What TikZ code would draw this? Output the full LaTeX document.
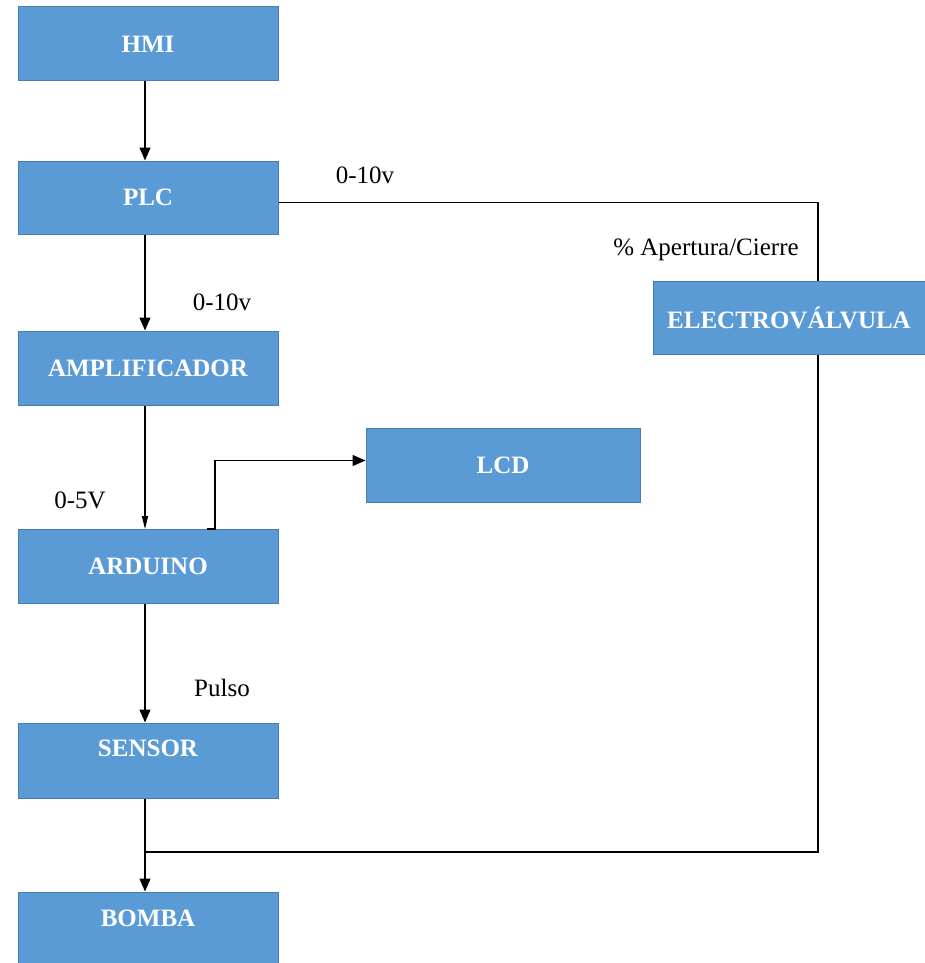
\documentclass[tikz,border=0pt]{standalone}
\usepackage{fontspec}
\setmainfont{Liberation Serif}
\usetikzlibrary{arrows.meta,calc}
\definecolor{boxfill}{RGB}{91,155,213}
\definecolor{boxline}{RGB}{70,125,180}
\tikzset{
  blockbox/.style={draw=boxline, line width=1pt, fill=boxfill, text=white,
    font=\fontsize{25}{30}\selectfont\bfseries, minimum width=260pt, inner sep=0pt},
  lbl/.style={font=\fontsize{25}{30}\selectfont, text=black, inner sep=0pt},
  conn/.style={line width=1.3pt, draw=black},
  arr/.style={conn, -{Triangle[length=13pt,width=11pt]}},
  narrowarr/.style={conn, -{Triangle[length=13pt,width=6pt]}}
}
\begin{document}
\begin{tikzpicture}[x=1pt,y=-1pt]
\useasboundingbox[fill=white] (0,0) rectangle (925,963);

\node[blockbox, minimum height=74pt] (hmi) at (148,44) {HMI};
\node[blockbox, minimum height=73pt] (plc) at (148,197.5) {PLC};
\node[blockbox, minimum height=74pt] (amp) at (148,368) {AMPLIFICADOR};
\node[blockbox, minimum height=74pt, minimum width=274pt] (lcd) at (503,465.5) {LCD};
\node[blockbox, minimum height=74pt] (ard) at (148,566.5) {ARDUINO};
\node[blockbox, minimum height=75pt] (sen) at (148,760.5) {};
\node[lbl, text=white, font=\fontsize{25}{30}\selectfont\bfseries] (sent) at (148,748) {SENSOR};
\node[blockbox, minimum height=71pt] (bom) at (148,927.5) {};
\node[lbl, text=white, font=\fontsize{25}{30}\selectfont\bfseries] (bomt) at (148,918) {BOMBA};
\node[blockbox, minimum height=73pt, minimum width=272pt] (ev) at (789,317.5) {ELECTROV\'ALVULA};

\node[lbl] (l1) at (365,175) {0-10v};
\node[lbl] (l2) at (706,250) {\% Apertura/Cierre};
\node[lbl] (l3) at (222,302) {0-10v};
\node[lbl] (l4) at (80,500) {0-5V};
\node[lbl] (l5) at (222,688) {Pulso};

\coordinate (join) at (145,852);

\draw[arr] ([xshift=-3pt]hmi.south) -- ([xshift=-3pt]plc.north);
\draw[arr] ([xshift=-3pt]plc.south) -- ([xshift=-3pt]amp.north);
\draw[narrowarr] ([xshift=-3pt]amp.south) -- ([xshift=-3pt]ard.north);
\draw[arr] ([xshift=59pt]ard.north) -- ++(8,0) |- ([yshift=5pt]lcd.west);
\draw[arr] ([xshift=-3pt]ard.south) -- ([xshift=-3pt]sen.north);
\draw[arr] ([xshift=-3pt]sen.south) -- ([xshift=-3pt]bom.north);
\draw[conn] ([yshift=-5pt]plc.east) -| ([xshift=29pt]ev.north);
\draw[conn] ([xshift=29pt]ev.south) |- (join);
\end{tikzpicture}
\end{document}
